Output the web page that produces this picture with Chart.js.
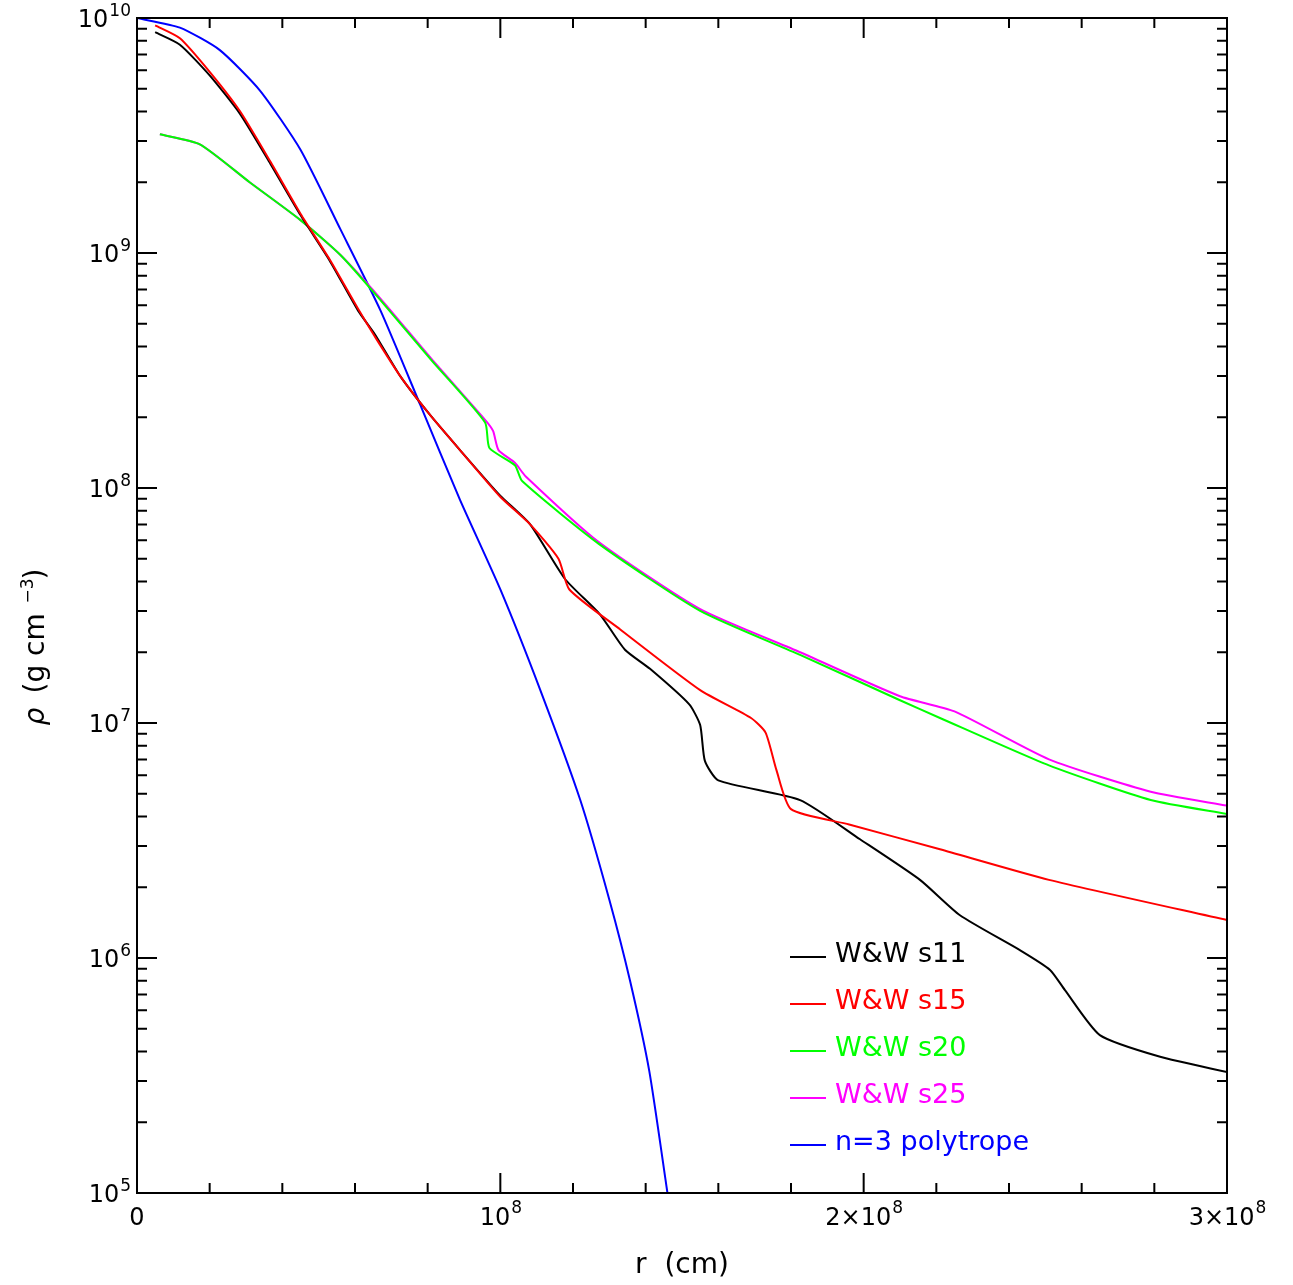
<!DOCTYPE html>
<html><head><meta charset="utf-8">
<script src="https://cdn.jsdelivr.net/npm/chart.js@4"></script>
<style>body{margin:0;background:#fff}#wrap{width:1293px;height:1285px}</style>
</head><body><div id="wrap"><canvas id="c"></canvas></div>
<script>
// radius in cm, density in g/cm^3
const s11R = [0.05e8,0.118e8,0.2e8,0.284e8,0.367e8,0.45e8,0.53e8,0.608e8,0.655e8,0.724e8,0.806e8,0.889e8,0.999e8,1.082e8,1.178e8,1.274e8,1.343e8,1.412e8,1.52e8,1.55e8,1.563e8,1.6e8,1.825e8,1.99e8,2.155e8,2.265e8,2.43e8,2.513e8,2.554e8,2.65e8,2.816e8,3.0e8];
const s11Rho = [8.7e9,7.7e9,5.7e9,3.9e9,2.4e9,1.45e9,9.3e8,5.7e8,4.5e8,3.0e8,2.05e8,1.45e8,9.3e7,7.0e7,4.1e7,2.9e7,2.05e7,1.7e7,1.2e7,9.8e6,6.9e6,5.7e6,4.7e6,3.2e6,2.15e6,1.52e6,1.08e6,8.9e5,7.3e5,4.7e5,3.8e5,3.27e5];
const s15R = [0.05e8,0.118e8,0.2e8,0.284e8,0.367e8,0.45e8,0.53e8,0.608e8,0.655e8,0.724e8,0.806e8,0.889e8,0.999e8,1.082e8,1.16e8,1.19e8,1.33e8,1.55e8,1.69e8,1.73e8,1.76e8,1.8e8,1.96e8,2.21e8,2.51e8,3.0e8];
const s15Rho = [9.3e9,8.2e9,5.9e9,4.0e9,2.45e9,1.47e9,9.4e8,5.8e8,4.4e8,3.0e8,2.05e8,1.45e8,9.2e7,7.0e7,5.0e7,3.7e7,2.5e7,1.38e7,1.05e7,9.1e6,6.3e6,4.3e6,3.7e6,2.9e6,2.15e6,1.45e6];
const s20R = [0.063e8,0.173e8,0.31e8,0.45e8,0.56e8,0.67e8,0.81e8,0.958e8,0.97e8,1.04e8,1.06e8,1.27e8,1.55e8,1.825e8,2.1e8,2.21e8,2.51e8,2.79e8,3.0e8];
const s20Rho = [3.2e9,2.9e9,2.0e9,1.38e9,9.8e8,6.3e8,3.5e8,1.9e8,1.48e8,1.25e8,1.07e8,5.8e7,3.0e7,1.95e7,1.25e7,1.05e7,6.6e6,4.7e6,4.1e6];
const s25R = [0.063e8,0.173e8,0.31e8,0.45e8,0.56e8,0.67e8,0.81e8,0.958e8,0.98e8,0.995e8,1.04e8,1.07e8,1.27e8,1.55e8,1.825e8,2.1e8,2.25e8,2.51e8,2.79e8,3.0e8];
const s25Rho = [3.2e9,2.9e9,2.0e9,1.38e9,9.8e8,6.4e8,3.55e8,1.95e8,1.75e8,1.45e8,1.28e8,1.12e8,5.9e7,3.05e7,2.0e7,1.3e7,1.12e7,7.0e6,5.1e6,4.45e6];
const polyR = [0,0.118e8,0.228e8,0.339e8,0.45e8,0.56e8,0.67e8,0.78e8,0.889e8,1.0e8,1.11e8,1.22e8,1.3e8,1.357e8,1.41e8,1.46e8];
const polyRho = [1e10,9.1e9,7.3e9,4.9e9,2.75e9,1.26e9,5.7e8,2.25e8,8.9e7,3.7e7,1.38e7,4.7e6,1.77e6,8e5,3.3e5,1e5];
const xTickVals = [0,1e8,2e8,3e8];
const xTickBase = ['0','10','2\u00d710','3\u00d710'];
const xTickExp = ['','8','8','8'];
const yTickExps = [5,6,7,8,9,10];
const legendNames = ['W&W s11','W&W s15','W&W s20','W&W s25','n=3 polytrope'];
const legendColors = ['#000000','#ff0000','#00ff00','#ff00ff','#0000ff'];

function pts(r, rho) { return r.map((v, i) => ({x: v, y: rho[i]})); }
const FONT = '"DejaVu Sans", sans-serif';

const decor = {
  id: 'decor',
  afterDraw(chart) {
    const c = chart.ctx, a = chart.chartArea, xs = chart.scales.x, ys = chart.scales.y;
    c.save();
    c.strokeStyle = '#000'; c.lineWidth = 2;
    c.strokeRect(a.left, a.top, a.right - a.left, a.bottom - a.top);
    // x ticks
    for (let v = 0; v <= 3e8; v += 2e7) {
      const px = xs.getPixelForValue(v), len = v % 1e8 === 0 ? 20 : 10;
      c.beginPath(); c.moveTo(px, a.bottom); c.lineTo(px, a.bottom - len);
      c.moveTo(px, a.top); c.lineTo(px, a.top + len); c.stroke();
    }
    // y ticks
    for (let e = 5; e < 10; e++) {
      for (let m = 1; m <= 10; m++) {
        const py = ys.getPixelForValue(m * Math.pow(10, e)), len = m === 1 || m === 10 ? 20 : 10;
        c.beginPath(); c.moveTo(a.left, py); c.lineTo(a.left + len, py);
        c.moveTo(a.right, py); c.lineTo(a.right - len, py); c.stroke();
      }
    }
    c.fillStyle = '#000';
    // y labels
    yTickExps.forEach(e => {
      const py = ys.getPixelForValue(Math.pow(10, e));
      c.font = '17px ' + FONT; c.textAlign = 'right'; c.textBaseline = 'alphabetic';
      const ew = c.measureText(String(e)).width;
      c.fillText(String(e), a.left - 6, py - 2);
      c.font = '24px ' + FONT;
      c.fillText('10', a.left - 7 - ew, py + 9);
    });
    // x labels
    xTickVals.forEach((v, i) => {
      const px = xs.getPixelForValue(v);
      c.font = '24px ' + FONT; c.textBaseline = 'alphabetic';
      const bw = c.measureText(xTickBase[i]).width;
      c.font = '17px ' + FONT;
      const ew = c.measureText(xTickExp[i]).width;
      let x0 = px - (bw + ew) / 2;
      if (i === 0) x0 = px - bw / 2;
      c.font = '24px ' + FONT; c.textAlign = 'left';
      c.fillText(xTickBase[i], x0, a.bottom + 32);
      c.font = '17px ' + FONT;
      c.fillText(xTickExp[i], x0 + bw + 1, a.bottom + 20);
    });
    // axis titles
    c.font = '28px ' + FONT; c.textAlign = 'center';
    c.fillText('r  (cm)', (a.left + a.right) / 2, a.bottom + 80);
    c.save(); c.translate(44, (a.top + a.bottom) / 2); c.rotate(-Math.PI / 2);
    c.textAlign = 'left';
    c.font = 'italic 28px ' + FONT; c.fillText('\u03c1', -120, 0);
    c.font = '28px ' + FONT; c.fillText('(g cm', -88, 0);
    c.font = '17px ' + FONT; c.fillText('\u22123', 2, -11);
    c.font = '28px ' + FONT; c.fillText(')', 26, 0);
    c.restore();
    // legend
    legendNames.forEach((n, i) => {
      const y = 955 + i * 47;
      c.strokeStyle = legendColors[i]; c.lineWidth = 2;
      c.beginPath(); c.moveTo(790, y + 2); c.lineTo(826, y + 2); c.stroke();
      c.fillStyle = legendColors[i]; c.font = '27px ' + FONT; c.textAlign = 'left'; c.textBaseline = 'middle';
      c.fillText(n, 835, y);
    });
    c.restore();
  }
};

function ds(label, r, rho, color) {
  return {label, data: pts(r, rho), borderColor: color, borderWidth: 2, pointRadius: 0, fill: false, tension: 0.2};
}

new Chart(document.getElementById('c'), {
  type: 'line',
  data: {
    datasets: [
      ds('W&W s15', s15R, s15Rho, '#ff0000'),
      ds('W&W s11', s11R, s11Rho, '#000000'),
      ds('W&W s20', s20R, s20Rho, '#00ff00'),
      ds('W&W s25', s25R, s25Rho, '#ff00ff'),
      ds('n=3 polytrope', polyR, polyRho, '#0000ff')
    ]
  },
  options: {
    responsive: true,
    maintainAspectRatio: false,
    animation: false,
    layout: {padding: {left: 137, top: 18, right: 66, bottom: 92}},
    plugins: {legend: {display: false}, tooltip: {enabled: false}},
    scales: {
      x: {type: 'linear', min: 0, max: 3e8, grid: {display: false}, border: {display: false},
          ticks: {display: false}, afterFit: s => { s.height = 0; }},
      y: {type: 'logarithmic', min: 1e5, max: 1e10, grid: {display: false}, border: {display: false},
          ticks: {display: false}, afterFit: s => { s.width = 0; }}
    }
  },
  plugins: [decor]
});
</script>
</body></html>
